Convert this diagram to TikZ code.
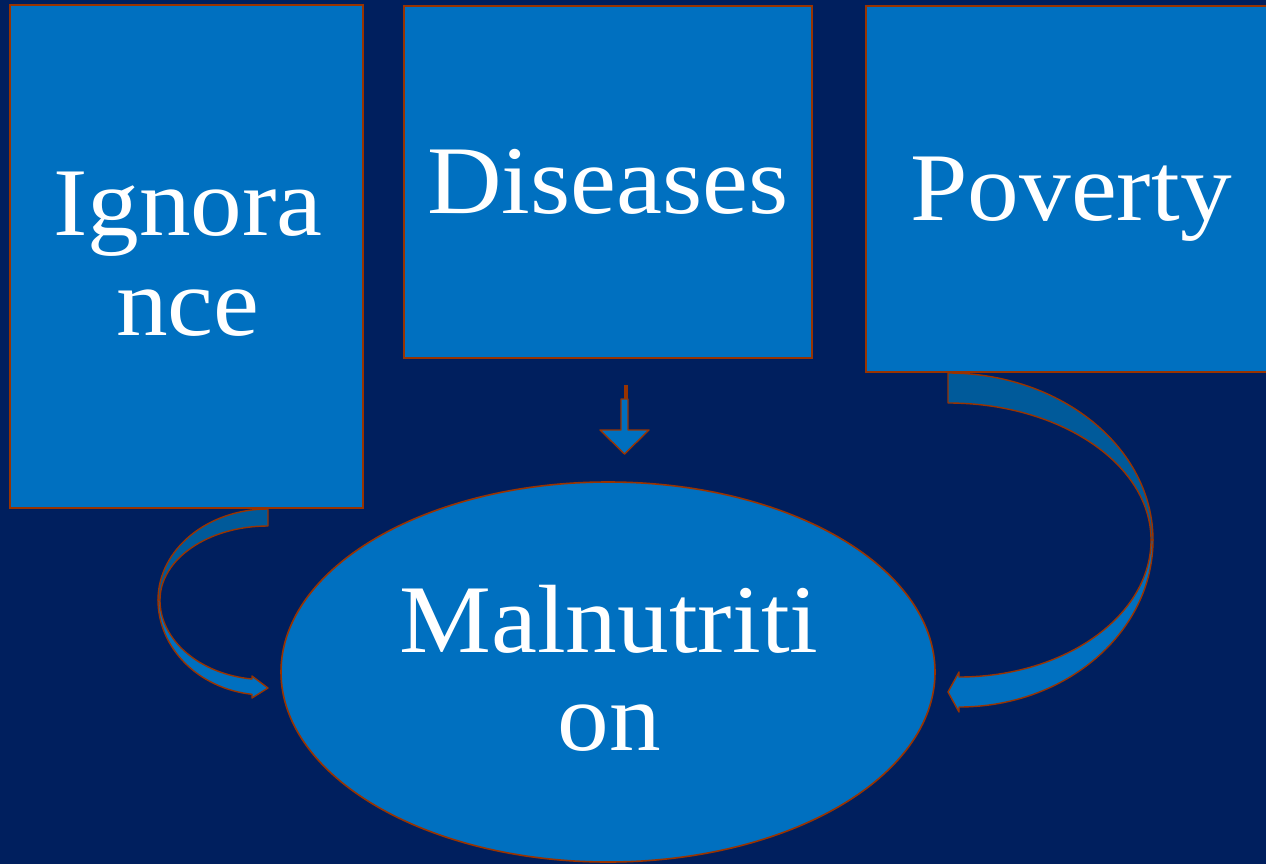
\documentclass[tikz,border=0pt]{standalone}
\usepackage{fontspec}
\setmainfont{Liberation Serif}[FakeStretch=1.065]
\usetikzlibrary{shapes.geometric}
\definecolor{bgcol}{RGB}{0,31,94}
\definecolor{boxfill}{RGB}{0,112,192}
\definecolor{backfill}{RGB}{0,90,154}
\definecolor{edgecol}{RGB}{153,51,0}
\tikzset{
  box/.style={draw=edgecol, fill=boxfill, line width=1.8pt, rectangle, inner sep=0pt},
  oval/.style={draw=edgecol, fill=boxfill, line width=1.6pt, ellipse, inner sep=0pt},
  lbl/.style={text=white, inner sep=0pt, anchor=base, font=\fontsize{97}{100}\selectfont},
  bandback/.style={draw=edgecol, fill=backfill, line width=1.4pt, line join=round},
  bandfront/.style={draw=edgecol, fill=boxfill, line width=1.4pt, line join=round}
}
\begin{document}
\begin{tikzpicture}[x=1pt,y=-1pt]
\useasboundingbox (0,0) rectangle (1266,864);
\fill[bgcol] (0,0) rectangle (1266,864);
\clip (0,0) rectangle (1266,864);

% curved arrow from Ignorance
\draw[bandback] (268,509) arc[start angle=270,end angle=180,x radius=110,y radius=91]
  -- (160,600) arc[start angle=180,end angle=270,x radius=108,y radius=74] -- cycle;
\draw[bandfront] (158,600) arc[start angle=180,end angle=97,x radius=107,y radius=95]
  -- (252,698) -- (268,688) -- (252,676) -- (252,679)
  arc[start angle=97.1,end angle=180,x radius=105,y radius=79.6] -- cycle;

% curved arrow from Poverty
\draw[bandback] (948,373) arc[start angle=270,end angle=360,x radius=205,y radius=167]
  -- (1151,540) arc[start angle=0,end angle=-90,x radius=203,y radius=137] -- cycle;
\draw[bandfront] (1153,540) arc[start angle=0,end angle=90,x radius=194,y radius=167]
  -- (959,712) -- (948,692) -- (959,672) -- (959,677)
  arc[start angle=90,end angle=0,x radius=192,y radius=137] -- cycle;

% boxes
\node[box, minimum width=353pt, minimum height=503pt] (ign) at (186.5,256.5) {};
\node[box, minimum width=408pt, minimum height=352pt] (dis) at (608,182) {};
\node[box, minimum width=410pt, minimum height=366pt] (pov) at (1071,189) {};
\node[oval, minimum width=654pt, minimum height=380pt] (mal) at (608,672) {};

% small down arrow
\fill[edgecol] (623.5,385) rectangle (627.5,400);
\draw[bandfront] (621,399) -- (628,399) -- (628,430) -- (649,430) -- (624.5,454)
  -- (600,430) -- (621,430) -- cycle;

% labels
\node[lbl] (ign1) at (188,235) {Ignora};
\node[lbl] (ign2) at (188,335) {nce};
\node[lbl] (dist) at (608,213) {Diseases};
\node[lbl] (povt) at (1071,220) {Poverty};
\node[lbl] (mal1) at (609,652) {Malnutriti};
\node[lbl] (mal2) at (609,750) {on};
\end{tikzpicture}
\end{document}
